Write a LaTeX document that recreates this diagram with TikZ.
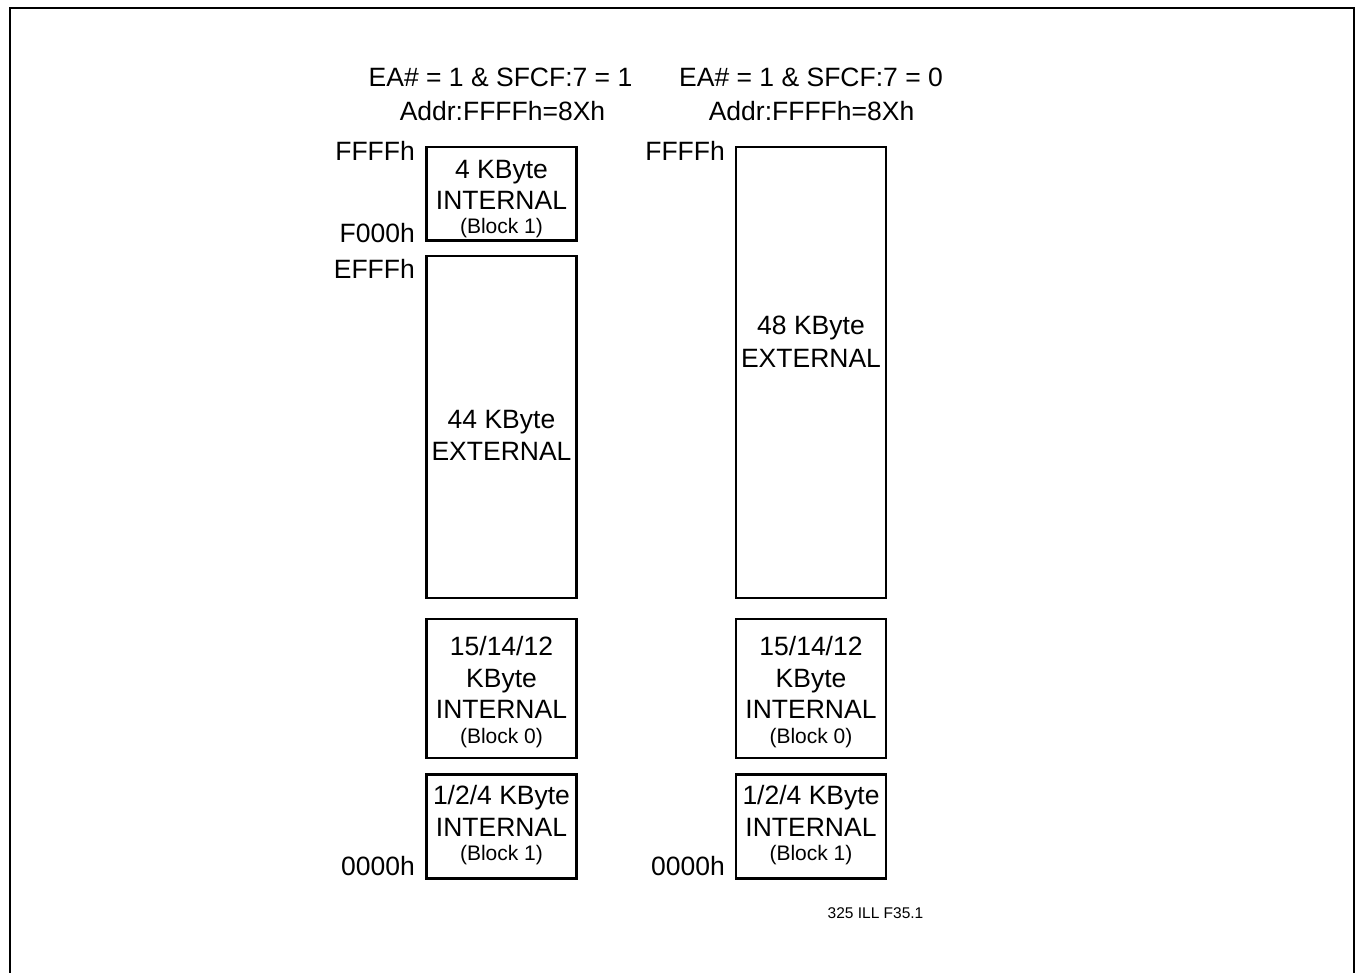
\documentclass[tikz,border=0pt]{standalone}
\usepackage{fontspec}
\setmainfont{Liberation Sans}
\begin{document}
\begin{tikzpicture}[x=1pt,y=-1pt,
  memb/.style={draw=black, line width=2.3pt, rectangle, inner sep=0pt, minimum width=150pt},
  bigtxt/.style={font=\fontsize{26.5}{30}\selectfont, inner sep=0pt, anchor=base},
  smalltxt/.style={font=\fontsize{21}{24}\selectfont, inner sep=0pt, anchor=base},
  addr/.style={font=\fontsize{26.5}{30}\selectfont, inner sep=0pt, anchor=base east},
  tinytxt/.style={font=\fontsize{15.5}{18}\selectfont, inner sep=0pt, anchor=base}]
\useasboundingbox (0,0) rectangle (1357,973);
\clip (0,0) rectangle (1357,973);
\draw[line width=2.3pt] (10,8) rectangle (1354,1000);

% headers
\node[bigtxt] (h1a) at (500.5,87) {EA\# = 1 \& SFCF:7 = 1};
\node[bigtxt] (h1b) at (502.5,121) {Addr:FFFFh=8Xh};
\node[bigtxt] (h2a) at (811,87) {EA\# = 1 \& SFCF:7 = 0};
\node[bigtxt] (h2b) at (811.5,121) {Addr:FFFFh=8Xh};

% left column boxes
\node[memb, minimum height=93.5pt] (L1) at (501.5,193.75) {};
\node[memb, minimum height=342pt] (L2) at (501.5,427) {};
\node[memb, minimum height=139pt] (L3) at (501.5,688.5) {};
\node[memb, minimum height=104pt] (L4) at (501.5,826.5) {};

% right column boxes
\node[memb, minimum height=451pt] (R2) at (811,372.5) {};
\node[memb, minimum height=139pt] (R3) at (811,688.5) {};
\node[memb, minimum height=104pt] (R4) at (811,826.5) {};

% left texts
\node[bigtxt] (L1a) at (501.5,179) {4 KByte};
\node[bigtxt] (L1b) at (501.5,209.5) {INTERNAL};
\node[smalltxt] (L1c) at (501.5,234) {(Block 1)};
\node[bigtxt] (L2a) at (501.5,428) {44 KByte};
\node[bigtxt] (L2b) at (501.5,460) {EXTERNAL};
\node[bigtxt] (L3a) at (501.5,655) {15/14/12};
\node[bigtxt] (L3b) at (501.5,687) {KByte};
\node[bigtxt] (L3c) at (501.5,718.5) {INTERNAL};
\node[smalltxt] (L3d) at (501.5,743.5) {(Block 0)};
\node[bigtxt] (L4a) at (501.5,804.5) {1/2/4 KByte};
\node[bigtxt] (L4b) at (501.5,836) {INTERNAL};
\node[smalltxt] (L4c) at (501.5,860) {(Block 1)};

% right texts
\node[bigtxt] (R2a) at (811,335) {48 KByte};
\node[bigtxt] (R2b) at (811,367) {EXTERNAL};
\node[bigtxt] (R3a) at (811,655) {15/14/12};
\node[bigtxt] (R3b) at (811,687) {KByte};
\node[bigtxt] (R3c) at (811,718.5) {INTERNAL};
\node[smalltxt] (R3d) at (811,743.5) {(Block 0)};
\node[bigtxt] (R4a) at (811,804.5) {1/2/4 KByte};
\node[bigtxt] (R4b) at (811,836) {INTERNAL};
\node[smalltxt] (R4c) at (811,860) {(Block 1)};

% address labels
\node[addr] (aL1) at (415,161) {FFFFh};
\node[addr] (aL2) at (415,242.5) {F000h};
\node[addr] (aL3) at (415,278.5) {EFFFh};
\node[addr] (aL4) at (415,875) {0000h};
\node[addr] (aR1) at (725,161) {FFFFh};
\node[addr] (aR4) at (725,875) {0000h};

% figure id
\node[tinytxt] (fid) at (875.5,918) {325 ILL F35.1};
\end{tikzpicture}
\end{document}
